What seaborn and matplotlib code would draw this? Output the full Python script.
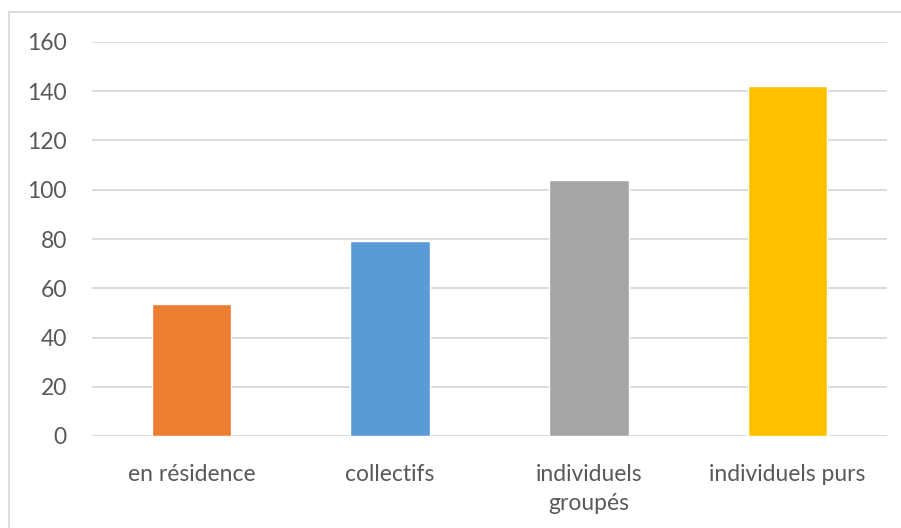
import matplotlib
matplotlib.use("Agg")
import matplotlib.pyplot as plt
import matplotlib.patches as mpatches
import seaborn as sns
import pandas as pd

# Housing types and their counts
categories = ["en résidence", "collectifs", "individuels\ngroupés", "individuels purs"]
values = [53.5, 79, 104, 142]
colors = ["#ED7D31", "#5B9BD5", "#A5A5A5", "#FFC000"]
y_ticks = [0, 20, 40, 60, 80, 100, 120, 140, 160]

sns.set_theme(style="white")
plt.rcParams["font.family"] = ["Lato", "DejaVu Sans"]

W, H = 901, 528
fig = plt.figure(figsize=(W / 100, H / 100), dpi=100)
ax = fig.add_axes([92 / W, 1 - 436 / H, (887 - 92) / W, (436 - 42) / H])

df = pd.DataFrame({"type": categories, "n": values})
sns.barplot(data=df, x="type", y="n", hue="type", palette=colors,
            width=0.40, saturation=1, legend=False, ax=ax, zorder=3)

ax.set_ylim(0, 160)
ax.set_xlim(-0.5, len(categories) - 0.5)
ax.set_yticks(y_ticks)
ax.yaxis.grid(True, color="#D9D9D9", linewidth=1.3, zorder=0)
ax.set_axisbelow(True)
for side in ["top", "right", "left", "bottom"]:
    ax.spines[side].set_visible(False)
ax.set_xlabel("")
ax.set_ylabel("")
ax.tick_params(axis="both", length=0, labelsize=16.5, labelcolor="#595959")
ax.tick_params(axis="y", pad=18)
ax.tick_params(axis="x", pad=20)
for lab in ax.get_xticklabels():
    lab.set_linespacing(1.5)
    lab.set_verticalalignment("top")

# Chart-area frame
fig.patches.append(mpatches.Rectangle((8.5 / W, -0.1), 1.2, 1 - 12.5 / H + 0.1,
                                      transform=fig.transFigure, fill=False,
                                      edgecolor="#D9D9D9", linewidth=1.3))

fig.savefig("out.png", dpi=100, facecolor="white")
